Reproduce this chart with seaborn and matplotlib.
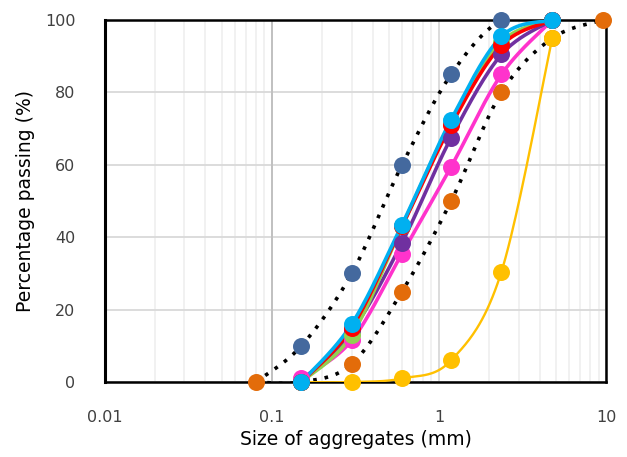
import numpy as np
import pandas as pd
import seaborn as sns
import matplotlib.pyplot as plt
from matplotlib.ticker import FixedLocator, NullFormatter

# sieve sizes (mm)
sieve = [0.15, 0.3, 0.6, 1.18, 2.36, 4.75]

# gradation curves of the mixes (% passing)
mix_yellow = [0, 0, 1, 6, 30.5, 95]
mix_pink = [1, 11.5, 35.5, 59.5, 85, 100]
mix_purple = [0, 14, 38.5, 67.5, 90.5, 100]
mix_green = [0, 13, 43, 72, 94, 100]
mix_red = [0, 15, 43, 71, 93, 100]
mix_cyan = [0, 16, 43.5, 72.5, 95.5, 100]

# specification limits
upper_size = [0.08, 0.15, 0.3, 0.6, 1.18, 2.36, 4.75]
upper_pass = [0, 10, 30, 60, 85, 100, 100]
lower_size = [0.08, 0.15, 0.3, 0.6, 1.18, 2.36, 4.75, 9.5]
lower_pass = [0, 0, 5, 25, 50, 80, 95, 100]


def smooth(xs, ys, n=40):
    # Catmull-Rom curve in log-x space (like Excel smoothed line)
    lx = np.log10(xs)
    y = np.array(ys, dtype=float)
    # scale so both directions are comparable on the plot
    px = (lx + 2) * 167.3
    py = y * 3.62
    P = np.column_stack([px, py])
    P = np.vstack([P[0], P, P[-1]])
    out = []
    for i in range(1, len(P) - 2):
        p0, p1, p2, p3 = P[i - 1], P[i], P[i + 1], P[i + 2]
        c1 = p1 + (p2 - p0) / 6
        c2 = p2 - (p3 - p1) / 6
        t = np.linspace(0, 1, n)[:, None]
        seg = ((1 - t) ** 3) * p1 + 3 * ((1 - t) ** 2) * t * c1 + 3 * (1 - t) * t ** 2 * c2 + t ** 3 * p2
        out.append(seg)
    out = np.vstack(out)
    return 10 ** (out[:, 0] / 167.3 - 2), out[:, 1] / 3.62


sns.set_theme(style="white")
plt.rcParams['font.family'] = ['DejaVu Sans']

fig, ax = plt.subplots(figsize=(6.27, 4.57), dpi=100)
fig.subplots_adjust(left=0.167, right=0.967, top=0.956, bottom=0.164)

# limit curves (dotted)
for xs, ys in [(upper_size, upper_pass), (lower_size, lower_pass)]:
    sx, sy = smooth(xs, ys)
    ax.plot(sx, sy, color='black', linestyle=(0, (1, 2.2)), linewidth=2.6, zorder=3)

mixes = [
    (mix_yellow, '#FFC000', 1.7),
    (mix_pink, '#FF33CC', 2.6),
    (mix_purple, '#7030A0', 2.6),
    (mix_green, '#92D050', 2.6),
    (mix_red, '#FF0000', 2.6),
    (mix_cyan, '#00B0F0', 2.6),
]

for vals, col, lw in mixes:
    sx, sy = smooth(sieve, vals)
    df = pd.DataFrame({'x': sx, 'y': sy})
    sns.lineplot(data=df, x='x', y='y', ax=ax, color=col, linewidth=lw, sort=False, zorder=4)
    sns.scatterplot(x=sieve, y=vals, ax=ax, color=col, s=150, linewidth=0, zorder=5, clip_on=False)

sns.scatterplot(x=upper_size[1:], y=upper_pass[1:], ax=ax, color='#44699E', s=150, linewidth=0, zorder=3.5, clip_on=False)
sns.scatterplot(x=lower_size, y=lower_pass, ax=ax, color='#E36C0A', s=150, linewidth=0, zorder=3.5, clip_on=False)

ax.set_xscale('log')
ax.set_xlim(0.01, 10)
ax.set_ylim(0, 100)
ax.set_xticks([0.01, 0.1, 1, 10])
ax.set_xticklabels(['0.01', '0.1', '1', '10'])
ax.xaxis.set_minor_locator(FixedLocator([m * d for d in [0.01, 0.1, 1] for m in range(2, 10)]))
ax.xaxis.set_minor_formatter(NullFormatter())
ax.set_yticks(range(0, 101, 20))

ax.grid(which='major', color='#D9D9D9', linewidth=1.3)
ax.grid(which='minor', axis='x', color='#F0F0F0', linewidth=1.3)
ax.axvline(0.1, color='#BFBFBF', linewidth=1.3, zorder=1)
ax.set_axisbelow(True)

for side in ['top', 'right', 'bottom']:
    ax.spines[side].set_color('black')
    ax.spines[side].set_linewidth(1.8)
ax.spines['left'].set_color('black')
ax.spines['left'].set_linewidth(2.2)

ax.tick_params(axis='both', which='both', length=0, labelsize=11.5, colors='#404040')
ax.tick_params(axis='x', pad=20)
ax.tick_params(axis='y', pad=21)

ax.set_xlabel('Size of aggregates (mm)', fontsize=13.5, color='black', labelpad=4)
ax.set_ylabel('Percentage passing (%)', fontsize=13.5, color='black', labelpad=7)

for t in ax.get_xticklabels() + ax.get_yticklabels():
    t.set_color('#404040')

plt.savefig('out.png', dpi=100)
